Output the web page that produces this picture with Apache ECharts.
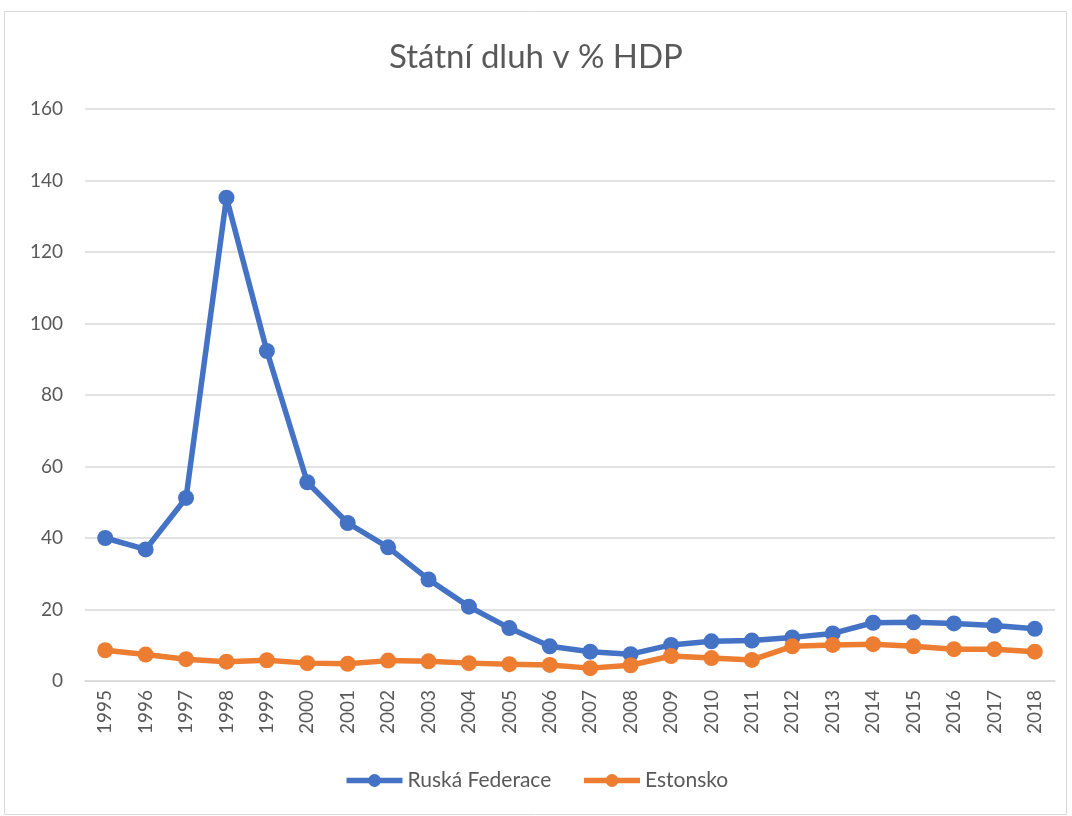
<!DOCTYPE html>
<html>
<head>
<meta charset="utf-8">
<script src="https://cdn.jsdelivr.net/npm/echarts@6/dist/echarts.min.js"></script>
<style>
  html, body { margin: 0; padding: 0; background: #fff; }
  #main { width: 1072px; height: 816px; }
</style>
</head>
<body>
<div id="main"></div>
<script>
  // data
  var years = ["1995", "1996", "1997", "1998", "1999", "2000", "2001", "2002", "2003", "2004", "2005", "2006",
    "2007", "2008", "2009", "2010", "2011", "2012", "2013", "2014", "2015", "2016", "2017", "2018"];
  var rusko = [40, 36.8, 51.2, 135.2, 92.3, 55.6, 44.2, 37.4, 28.4, 20.8, 14.8, 9.7,
    8.2, 7.5, 10.1, 11.1, 11.3, 12.2, 13.3, 16.3, 16.4, 16.1, 15.5, 14.6];
  var estonsko = [8.6, 7.4, 6.1, 5.4, 5.8, 5.0, 4.8, 5.7, 5.5, 5.0, 4.7, 4.5,
    3.6, 4.4, 7.0, 6.4, 5.9, 9.7, 10.1, 10.3, 9.7, 8.9, 8.9, 8.2];

  var chartDom = document.getElementById("main");
  var myChart = echarts.init(chartDom);
  var textColor = "#595959";
  var font = "Lato";

  function serie(name, data, color) {
    return {
      name: name,
      type: "line",
      data: data,
      symbol: "circle",
      symbolSize: 16,
      lineStyle: { width: 5.5, color: color },
      itemStyle: { color: color },
    };
  }

  var option = {
    animation: false,
    textStyle: { fontFamily: font },
    title: {
      text: "Státní dluh v % HDP",
      left: "center",
      top: 36,
      textStyle: { fontFamily: font, fontSize: 33, fontWeight: "normal", color: textColor },
    },
    graphic: [
      {
        type: "rect",
        shape: { x: 4.5, y: 11.5, width: 1062, height: 803 },
        style: { fill: "none", stroke: "#d9d9d9", lineWidth: 1 },
        silent: true,
      },
    ],
    legend: {
      bottom: 20,
      left: "center",
      itemWidth: 56,
      itemHeight: 16,
      itemGap: 30,
      lineStyle: { width: 5.5 },
      textStyle: { fontFamily: font, fontSize: 21, color: textColor },
      data: ["Ruská Federace", "Estonsko"],
    },
    grid: { left: 85, right: 17, top: 109, bottom: 135, containLabel: false },
    xAxis: {
      type: "category",
      data: years,
      boundaryGap: true,
      axisLine: { lineStyle: { color: "#d9d9d9", width: 1.5 } },
      axisTick: { show: false },
      axisLabel: {
        rotate: 90,
        interval: 0,
        margin: 9,
        color: textColor,
        fontSize: 19,
        fontFamily: font,
      },
    },
    yAxis: {
      type: "value",
      min: 0,
      max: 160,
      interval: 20,
      axisLine: { show: false },
      axisTick: { show: false },
      axisLabel: { color: textColor, fontSize: 19, fontFamily: font, margin: 22 },
      splitLine: { lineStyle: { color: "#d9d9d9", width: 1.5 } },
    },
    series: [
      serie("Ruská Federace", rusko, "#4472C4"),
      serie("Estonsko", estonsko, "#ED7D31"),
    ],
  };
  myChart.setOption(option);
</script>
</body>
</html>
